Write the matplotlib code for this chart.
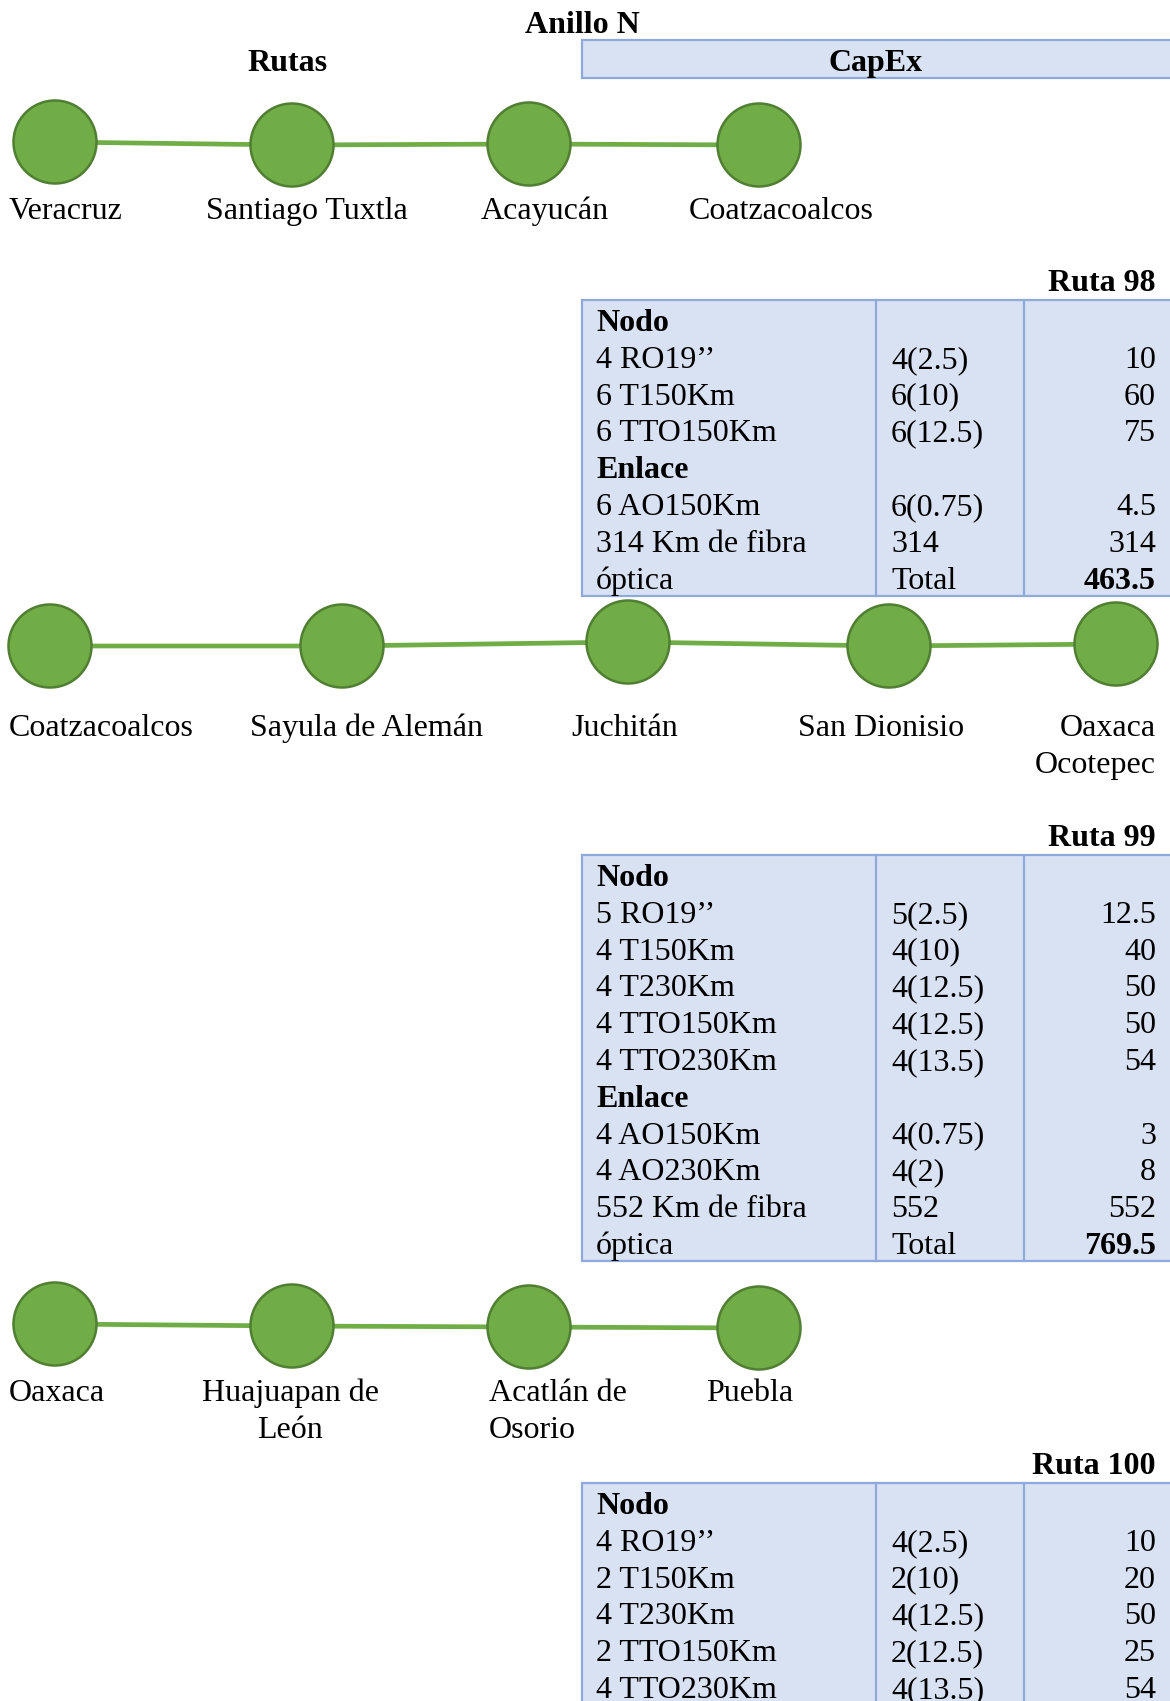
import matplotlib
matplotlib.use("Agg")
import matplotlib.pyplot as plt
from matplotlib.patches import Circle, Rectangle

plt.rcParams['font.family'] = ['Liberation Serif', 'DejaVu Serif']

# ---------------- data ----------------
title = "Anillo N"
left_header = "Rutas"
right_header = "CapEx"

route98_nodes = ["Veracruz", "Santiago Tuxtla", "Acayucán", "Coatzacoalcos"]
route99_nodes = ["Coatzacoalcos", "Sayula de Alemán", "Juchitán", "San Dionisio", "Oaxaca\nOcotepec"]
route100_nodes = ["Oaxaca", "Huajuapan de\nLeón", "Acatlán de\nOsorio", "Puebla"]

r98_title = "Ruta 98"
r98_nodo_items = ["4 RO19’’", "6 T150Km", "6 TTO150Km"]
r98_nodo_qty = ["4(2.5)", "6(10)", "6(12.5)"]
r98_nodo_cost = ["10", "60", "75"]
r98_enlace_items = ["6 AO150Km"]
r98_enlace_qty = ["6(0.75)"]
r98_enlace_cost = ["4.5"]
r98_fiber_km = "314"
r98_fiber_cost = "314"
r98_total = "463.5"

r99_title = "Ruta 99"
r99_nodo_items = ["5 RO19’’", "4 T150Km", "4 T230Km", "4 TTO150Km", "4 TTO230Km"]
r99_nodo_qty = ["5(2.5)", "4(10)", "4(12.5)", "4(12.5)", "4(13.5)"]
r99_nodo_cost = ["12.5", "40", "50", "50", "54"]
r99_enlace_items = ["4 AO150Km", "4 AO230Km"]
r99_enlace_qty = ["4(0.75)", "4(2)"]
r99_enlace_cost = ["3", "8"]
r99_fiber_km = "552"
r99_fiber_cost = "552"
r99_total = "769.5"

r100_title = "Ruta 100"
r100_nodo_items = ["4 RO19’’", "2 T150Km", "4 T230Km", "2 TTO150Km", "4 TTO230Km"]
r100_nodo_qty = ["4(2.5)", "2(10)", "4(12.5)", "2(12.5)", "4(13.5)"]
r100_nodo_cost = ["10", "20", "50", "25", "54"]

# ---------------- layout / style ----------------
W, H = 1170, 1701
FS = 23
GREEN = "#70AD47"
GREEN_EDGE = "#507E32"
BLUE_FILL = "#D9E2F3"
BLUE_EDGE = "#8EAADB"
ROW_H = 36.8
CAP = 11  # half cap height (px) -> baseline offset

fig = plt.figure(figsize=(W / 100, H / 100), dpi=100)
ax = fig.add_axes([0, 0, 1, 1])
ax.set_xlim(0, W)
ax.set_ylim(H, 0)
ax.axis('off')


def txt(x, y, s, ha='left', bold=False):
    ax.text(x, y + CAP, s, ha=ha, va='baseline', fontsize=FS,
            fontweight='bold' if bold else 'normal', color='black')


def label(x, y, s, ha):
    for i, line in enumerate(s.split("\n")):
        txt(x, y + i * ROW_H, line, ha=ha)


def route(nodes, xs, ys, lxs, lhas, label_y, r=41.5):
    ax.plot(xs, ys, color=GREEN, lw=3.4, solid_capstyle='butt', zorder=1)
    for x, y in zip(xs, ys):
        ax.add_patch(Circle((x, y), r, facecolor=GREEN, edgecolor=GREEN_EDGE, lw=1.8, zorder=2))
    for name, lx, ha in zip(nodes, lxs, lhas):
        label(lx, label_y, name, ha)


def table(top, ttl, items, qty, cost, enl_items=None, enl_qty=None, enl_cost=None,
          fiber_km=None, fiber_cost=None, total=None, bottom=None):
    rows = [("Nodo", "", "", True, False)]
    rows += [(a, b, c, False, False) for a, b, c in zip(items, qty, cost)]
    if enl_items is not None:
        rows.append(("Enlace", "", "", True, False))
        rows += [(a, b, c, False, False) for a, b, c in zip(enl_items, enl_qty, enl_cost)]
        rows.append((f"{fiber_km} Km de fibra", fiber_km, fiber_cost, False, False))
        rows.append(("óptica", "Total", total, False, True))
    first = top + 20
    if bottom is None:
        bottom = first + (len(rows) - 1) * ROW_H + 18
    x0, x1, x2, x3 = 582, 876, 1024, 1172
    ax.add_patch(Rectangle((x0, top), x3 - x0, bottom - top, facecolor=BLUE_FILL,
                           edgecolor=BLUE_EDGE, lw=1.6, zorder=1))
    for xv in (x1, x2):
        ax.plot([xv, xv], [top, bottom], color=BLUE_EDGE, lw=1.6, zorder=2)
    txt(1156, top - 20, ttl, ha='right', bold=True)
    for i, (a, b, c, bold_a, bold_c) in enumerate(rows):
        y = first + i * ROW_H
        txt(596, y, a, bold=bold_a)
        txt(891, y, b)
        txt(1156, y, c, ha='right', bold=bold_c)


# header
txt(582, 22, title, ha='center', bold=True)
txt(287, 60, left_header, ha='center', bold=True)
ax.add_patch(Rectangle((582, 40), 600, 38, facecolor=BLUE_FILL, edgecolor=BLUE_EDGE, lw=1.6, zorder=1))
txt(876, 60, right_header, ha='center', bold=True)

# route 98 diagram
route(route98_nodes, [55, 292, 529, 759], [142, 145, 144, 145],
      [9, 307, 545, 781], ['left', 'center', 'center', 'center'], 208)
table(300, r98_title, r98_nodo_items, r98_nodo_qty, r98_nodo_cost,
      r98_enlace_items, r98_enlace_qty, r98_enlace_cost, r98_fiber_km, r98_fiber_cost, r98_total)

# route 99 diagram
route(route99_nodes, [50, 342, 628, 889, 1116], [646, 646, 642, 646, 644],
      [9, 366, 625, 881, 1156], ['left', 'center', 'center', 'center', 'right'], 725)
table(855, r99_title, r99_nodo_items, r99_nodo_qty, r99_nodo_cost,
      r99_enlace_items, r99_enlace_qty, r99_enlace_cost, r99_fiber_km, r99_fiber_cost, r99_total)

# route 100 diagram
route(route100_nodes, [55, 292, 529, 759], [1324, 1326, 1327, 1328],
      [9, 290, 489, 750], ['left', 'center', 'left', 'center'], 1390)
table(1483, r100_title, r100_nodo_items, r100_nodo_qty, r100_nodo_cost, bottom=1720)

fig.savefig("out.png", dpi=100)
